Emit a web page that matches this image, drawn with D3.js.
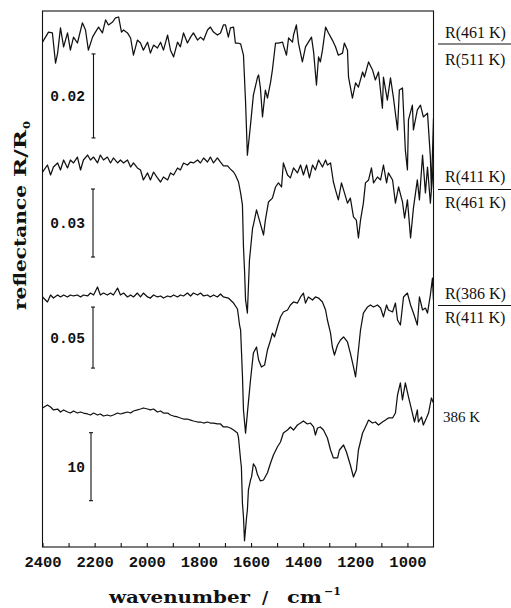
<!DOCTYPE html>
<html>
<head>
<meta charset="utf-8">
<script src="https://cdn.jsdelivr.net/npm/d3@7/dist/d3.min.js"></script>
<style>
  html, body { margin: 0; padding: 0; background: #fff; }
  svg { display: block; }
</style>
</head>
<body>
<svg id="chart" width="511" height="608"></svg>
<script>
// Reflectance spectra of the surface, 2400-900 cm^-1.
// Three difference spectra R(T1)/R(T2) (values in units of 1e-3, i.e. dR/R in per mil)
// and one absolute spectrum at 386 K (values in %). Each entry: [wavenumber, value].

const ratio461over511 = [
  [2400,-2.9],[2377,-0.5],[2362,-0.7],[2350,-7.9],[2342,-5.5],[2331,0.5],[2319,-4.0],[2304,-0.7],
  [2293,-4.8],[2281,-1.7],[2266,-3.1],[2247,1.7],[2235,0.0],[2224,-4.8],[2208,-1.7],[2197,-0.5],
  [2185,0.7],[2170,-0.7],[2158,2.4],[2147,1.2],[2131,1.9],[2120,2.9],[2108,3.1],[2097,-0.5],
  [2089,0.0],[2074,-0.7],[2062,-1.9],[2051,-6.0],[2036,-2.4],[2024,-3.1],[2013,-4.8],[1997,-2.9],
  [1986,-5.5],[1974,-3.6],[1959,-4.3],[1947,-2.9],[1936,-4.8],[1920,-1.2],[1909,-4.8],[1897,-6.4],
  [1882,-2.9],[1871,-4.0],[1859,-0.7],[1844,-3.1],[1832,-1.7],[1821,-0.7],[1805,-2.4],[1794,-1.7],
  [1782,-2.4],[1767,0.0],[1756,0.7],[1744,-0.5],[1729,-1.2],[1717,-0.7],[1706,1.2],[1698,1.2],
  [1687,-1.7],[1679,0.5],[1667,0.7],[1660,-3.1],[1652,-3.1],[1640,-3.3],[1629,-6.0],[1621,-17.1],
  [1614,-29.8],[1602,-22.6],[1591,-15.5],[1575,-11.2],[1571,-10.7],[1564,-13.8],[1556,-20.7],
  [1545,-14.3],[1537,-16.2],[1525,-12.4],[1518,-9.5],[1506,-3.1],[1495,-3.1],[1479,-2.9],
  [1476,-3.6],[1464,-6.0],[1456,-1.9],[1441,-2.9],[1437,-1.2],[1426,1.2],[1418,-3.1],[1403,-7.6],
  [1391,-4.0],[1380,-2.9],[1368,-1.7],[1360,-5.2],[1349,-13.1],[1341,-6.4],[1334,-7.6],[1326,-4.8],
  [1314,0.7],[1303,-0.7],[1288,-2.4],[1276,-4.0],[1265,-6.0],[1249,-5.5],[1242,-3.1],[1230,-4.8],
  [1226,-11.2],[1211,-16.2],[1199,-12.6],[1188,-13.6],[1172,-10.0],[1165,-11.2],[1149,-7.6],
  [1134,-9.5],[1123,-11.9],[1111,-10.0],[1096,-18.6],[1092,-11.2],[1077,-16.7],[1065,-11.4],
  [1054,-16.0],[1038,-23.8],[1031,-14.3],[1019,-13.8],[1008,-28.6],[1000,-33.3],[996,-21.4],
  [981,-17.9],[977,-23.8],[962,-19.0],[950,-17.9],[939,-20.7],[923,-19.8],[912,-30.2],
  [908,-38.1],[900,-21.0]
];

const ratio411over461 = [
  [2400,-3.1],[2381,0.0],[2369,-4.4],[2358,-0.9],[2342,0.9],[2331,-2.2],[2319,2.2],[2304,-1.3],
  [2293,2.2],[2281,0.9],[2266,3.5],[2254,-2.2],[2243,2.2],[2227,4.4],[2216,2.2],[2204,3.5],
  [2189,0.9],[2178,4.4],[2166,2.2],[2151,3.5],[2139,0.9],[2128,3.1],[2112,0.9],[2101,2.2],
  [2089,0.9],[2074,2.2],[2062,-0.9],[2051,0.9],[2036,-1.3],[2024,-2.2],[2013,-6.6],[1997,-3.5],
  [1986,-6.6],[1974,-3.1],[1959,-5.7],[1947,-7.5],[1936,-5.3],[1920,-6.6],[1909,-3.5],[1897,-4.4],
  [1882,-1.3],[1871,-2.2],[1859,0.9],[1844,0.0],[1832,1.3],[1821,0.9],[1805,2.2],[1794,0.9],
  [1782,3.1],[1767,1.3],[1756,3.5],[1744,0.9],[1729,3.1],[1717,1.3],[1706,-0.4],[1690,-0.4],
  [1679,-1.8],[1667,-3.1],[1660,-4.4],[1648,-7.5],[1640,-12.3],[1633,-17.6],[1629,-36.2],
  [1625,-46.3],[1621,-59.5],[1614,-65.3],[1606,-41.9],[1594,-27.8],[1591,-26.5],[1579,-19.8],
  [1568,-24.3],[1552,-30.9],[1545,-24.3],[1533,-16.3],[1518,-14.6],[1506,-9.7],[1495,-7.9],
  [1483,-9.7],[1476,0.9],[1460,-4.4],[1449,-5.7],[1437,-1.3],[1422,-3.5],[1410,0.0],[1399,-4.4],
  [1387,0.0],[1376,-5.7],[1364,0.0],[1353,-2.2],[1341,2.2],[1326,-0.9],[1314,2.2],[1307,0.0],
  [1295,0.9],[1284,-7.5],[1276,-11.0],[1265,-15.4],[1253,-7.9],[1245,-11.0],[1230,-16.8],
  [1219,-14.6],[1207,-22.9],[1196,-24.3],[1188,-32.2],[1180,-24.3],[1169,-16.8],[1161,-7.9],
  [1149,-6.6],[1138,-1.3],[1130,-7.9],[1115,-5.3],[1103,-6.6],[1092,0.0],[1080,-7.9],[1073,-3.5],
  [1057,-6.6],[1046,-16.8],[1034,-9.7],[1019,-16.3],[1011,-23.4],[1000,-15.4],[988,-32.2],
  [977,-19.0],[962,-6.6],[954,-15.4],[942,4.4],[931,-12.3],[923,-0.9],[912,-16.8],[900,0.9]
];

const ratio386over411 = [
  [2400,-1.6],[2381,-5.7],[2369,0.0],[2358,-2.5],[2342,0.0],[2331,-1.6],[2319,0.0],[2304,-1.6],
  [2293,0.0],[2281,-0.8],[2266,0.0],[2254,-1.6],[2243,0.0],[2227,-0.8],[2216,1.6],[2204,0.0],
  [2189,6.6],[2178,0.0],[2166,1.6],[2151,0.0],[2139,1.6],[2128,0.0],[2112,5.7],[2101,0.0],
  [2089,1.6],[2074,-1.6],[2062,0.0],[2051,-1.6],[2036,1.6],[2024,-1.6],[2013,1.6],[1997,-1.6],
  [1986,-2.5],[1974,0.0],[1959,-1.6],[1947,-0.8],[1936,-2.5],[1920,-0.8],[1909,-1.6],[1897,0.0],
  [1882,-1.6],[1871,0.0],[1859,-0.8],[1844,1.6],[1832,-0.8],[1821,1.6],[1805,0.0],[1794,1.6],
  [1782,-0.8],[1767,0.0],[1756,-1.6],[1744,0.0],[1729,-1.6],[1717,0.8],[1706,-1.6],[1687,-2.5],
  [1679,-4.1],[1667,-6.6],[1652,-11.5],[1644,-24.6],[1640,-28.7],[1633,-65.6],[1629,-94.3],
  [1621,-113.2],[1614,-96.8],[1602,-69.7],[1591,-47.6],[1579,-42.6],[1571,-53.3],[1560,-59.0],
  [1548,-57.4],[1537,-45.1],[1525,-36.9],[1518,-31.2],[1510,-34.4],[1499,-26.2],[1487,-18.0],
  [1476,-13.9],[1460,-12.3],[1449,-8.2],[1437,-5.7],[1422,-6.6],[1410,-1.6],[1399,1.6],
  [1391,-6.6],[1380,-1.6],[1364,-4.1],[1353,-1.6],[1341,-2.5],[1326,-5.7],[1314,-12.3],
  [1307,-20.5],[1295,-31.2],[1288,-42.6],[1280,-49.2],[1268,-41.0],[1257,-36.9],[1245,-34.4],
  [1230,-38.5],[1219,-47.6],[1207,-59.0],[1199,-67.2],[1192,-53.3],[1180,-28.7],[1169,-14.8],
  [1153,-9.8],[1142,-8.2],[1130,-9.8],[1115,-8.2],[1103,-10.7],[1092,-18.0],[1080,-8.2],
  [1073,-12.3],[1057,-13.9],[1046,-6.6],[1038,-20.5],[1027,-24.6],[1015,-1.6],[1000,1.6],
  [988,-8.2],[977,-14.8],[962,-24.6],[954,-1.6],[942,-12.3],[931,-10.7],[923,-14.8],[912,0.0],
  [904,13.9],[900,-4.1]
];

const reflect386 = [
  [2400,1.03],[2381,1.47],[2369,1.18],[2358,0.74],[2342,0.88],[2331,0.44],[2319,0.74],[2304,0.44],
  [2293,0.29],[2281,0.59],[2266,0.29],[2254,0.44],[2243,0.29],[2227,0.15],[2216,0.0],[2204,0.29],
  [2189,0.0],[2178,0.15],[2166,-0.15],[2151,0.0],[2139,-0.15],[2128,0.0],[2112,0.29],[2101,0.15],
  [2089,0.29],[2074,0.44],[2062,0.29],[2051,0.59],[2036,0.74],[2024,0.88],[2013,1.03],[1997,0.88],
  [1986,0.74],[1974,0.88],[1959,0.44],[1947,0.59],[1936,0.29],[1920,0.29],[1909,0.0],[1897,-0.15],
  [1882,-0.29],[1871,-0.44],[1859,-0.59],[1844,-0.59],[1832,-0.74],[1821,-0.88],[1805,-1.03],
  [1794,-1.03],[1782,-1.18],[1767,-1.03],[1756,-1.18],[1744,-1.18],[1729,-1.32],[1717,-1.32],
  [1706,-1.76],[1690,-1.76],[1679,-1.91],[1667,-2.21],[1652,-2.65],[1648,-3.38],[1640,-6.62],
  [1637,-7.65],[1633,-12.94],[1629,-15.0],[1625,-18.5],[1617,-15.0],[1614,-13.97],[1610,-11.0],
  [1602,-9.56],[1598,-9.1],[1591,-7.2],[1583,-7.65],[1575,-8.8],[1564,-9.7],[1552,-9.56],
  [1537,-8.5],[1525,-7.06],[1514,-5.88],[1499,-4.71],[1487,-3.97],[1476,-2.65],[1460,-2.21],
  [1449,-1.76],[1437,-2.21],[1422,-1.47],[1410,-1.18],[1399,-0.88],[1384,-1.32],[1372,-1.18],
  [1360,-1.76],[1353,-2.94],[1345,-1.91],[1334,-1.76],[1322,-2.21],[1307,-3.38],[1295,-5.15],
  [1284,-6.32],[1268,-6.32],[1261,-5.15],[1245,-4.41],[1234,-5.44],[1219,-7.35],[1207,-9.12],
  [1196,-8.09],[1188,-5.15],[1172,-2.65],[1161,-1.76],[1149,-0.74],[1134,-1.18],[1123,-1.03],
  [1111,-1.47],[1096,-1.03],[1084,-0.74],[1073,-0.44],[1057,-0.44],[1046,0.29],[1038,2.94],
  [1027,4.71],[1019,2.21],[1008,4.71],[996,2.65],[981,0.29],[973,-1.03],[962,0.74],[958,-1.03],
  [946,-0.29],[939,-1.47],[927,-0.44],[919,0.29],[908,2.5],[900,1.76]
];

// Axis ticks and texts
const xTicksMajor = [2400, 2200, 2000, 1800, 1600, 1400, 1200, 1000];
const xTicksMinor = [2300, 2100, 1900, 1700, 1500, 1300, 1100];
const scaleBarValues = [20, 30, 50, 10];           // in the units of each trace
const scaleBarLabels = ["0.02", "0.03", "0.05", "10"];
const traceLabels = [
  ["R(461 K)", "R(511 K)"],
  ["R(411 K)", "R(461 K)"],
  ["R(386 K)", "R(411 K)"],
  ["386 K"]
];

// ---- layout ----
const plot = { left: 42.5, right: 433.5, top: 11, bottom: 547 };

const svg = d3.select("#chart");

const x = d3.scaleLinear().domain([2400, 900]).range([plot.left, plot.right]);

// Each trace is stacked at its own offset with its own vertical scale;
// the scale bar of a trace spans exactly `scaleBarValues[i]` of that scale.
const panels = [
  { data: ratio461over511, base: 30,  barPx: 84, barLow: -25.7, barX: 93.5, labelY: [38, 65],  fracY: 44 },
  { data: ratio411over461, base: 165, barPx: 68, barLow: -40.6, barX: 93,   labelY: [182, 208], fracY: 189.5 },
  { data: ratio386over411, base: 295, barPx: 61, barLow: -59.9, barX: 93,   labelY: [299, 323], fracY: 305.5 },
  { data: reflect386,      base: 415, barPx: 68, barLow: -12.6, barX: 91,   labelY: [422],      fracY: null }
];
panels.forEach((p, i) => {
  p.y = d3.scaleLinear()
    .domain([0, scaleBarValues[i]])
    .range([p.base, p.base - p.barPx]);
});

const ink = "#111";

svg.append("defs").append("clipPath").attr("id", "plotclip")
  .append("rect")
  .attr("x", plot.left).attr("y", plot.top)
  .attr("width", plot.right - plot.left).attr("height", plot.bottom - plot.top);

// frame
svg.append("rect")
  .attr("x", plot.left).attr("y", plot.top)
  .attr("width", plot.right - plot.left).attr("height", plot.bottom - plot.top)
  .attr("fill", "none").attr("stroke", ink).attr("stroke-width", 1.1);

// bottom axis: inward ticks every 100 cm-1, labels every 200
const xAxis = d3.axisBottom(x)
  .tickValues(xTicksMajor.concat(xTicksMinor))
  .tickSizeInner(-4).tickSizeOuter(0)
  .tickFormat(d => xTicksMajor.includes(d) ? d : "");
const gx = svg.append("g")
  .attr("transform", `translate(0,${plot.bottom})`)
  .call(xAxis);
gx.select(".domain").remove();
gx.selectAll(".tick line").attr("stroke", ink).attr("stroke-width", 1.1);
gx.selectAll(".tick text")
  .attr("y", 20).attr("dy", 0)
  .attr("fill", ink)
  .style("font-family", "'Liberation Mono', 'DejaVu Sans Mono', monospace")
  .style("font-weight", "bold")
  .style("font-size", "15.5px");

// traces
const line = (p) => d3.line()
  .x(d => x(d[0]))
  .y(d => p.y(d[1]))
  .curve(d3.curveLinear);

const traces = svg.append("g").attr("clip-path", "url(#plotclip)");
panels.forEach(p => {
  traces.append("path")
    .datum(p.data)
    .attr("d", line(p))
    .attr("fill", "none")
    .attr("stroke", ink)
    .attr("stroke-width", 1.25)
    .attr("stroke-linejoin", "round");
});

// scale bars
panels.forEach((p, i) => {
  const y1 = p.y(p.barLow), y2 = p.y(p.barLow + scaleBarValues[i]);
  const g = svg.append("g").attr("stroke", ink).attr("stroke-width", 1.1);
  g.append("line").attr("x1", p.barX).attr("x2", p.barX).attr("y1", y1).attr("y2", y2);
  g.append("line").attr("x1", p.barX - 2).attr("x2", p.barX + 2).attr("y1", y1).attr("y2", y1);
  g.append("line").attr("x1", p.barX - 2).attr("x2", p.barX + 2).attr("y1", y2).attr("y2", y2);
  svg.append("text")
    .attr("x", 85).attr("y", (y1 + y2) / 2 + 5)
    .attr("text-anchor", "end")
    .attr("fill", ink)
    .style("font-family", "'Liberation Mono', 'DejaVu Sans Mono', monospace")
    .style("font-weight", "bold")
    .style("font-size", "14.5px")
    .text(scaleBarLabels[i]);
});

// trace labels on the right
panels.forEach((p, i) => {
  traceLabels[i].forEach((t, j) => {
    svg.append("text")
      .attr("x", i === 3 ? 443 : 445).attr("y", p.labelY[j])
      .attr("fill", ink)
      .style("font-family", "'Liberation Serif', 'DejaVu Serif', serif")
      .style("font-size", i === 3 ? "15px" : "16px")
      .text(t);
  });
  if (p.fracY !== null) {
    svg.append("line")
      .attr("x1", 438).attr("x2", 511)
      .attr("y1", p.fracY).attr("y2", p.fracY)
      .attr("stroke", ink).attr("stroke-width", 1);
  }
});

// axis titles: wide bold serif, glyphs stretched to the set length
const titleStyle = sel => sel
  .attr("fill", ink)
  .style("font-family", "'DejaVu Serif', 'Liberation Serif', serif")
  .style("font-weight", "bold")
  .style("font-size", "17px");

const xTitle = svg.append("g");
xTitle.append("text").attr("x", 109).attr("y", 603)
  .attr("textLength", 141).attr("lengthAdjust", "spacingAndGlyphs")
  .call(titleStyle).text("wavenumber");
xTitle.append("text").attr("x", 262).attr("y", 603).call(titleStyle).text("/");
xTitle.append("text").attr("x", 287).attr("y", 603)
  .attr("textLength", 35).attr("lengthAdjust", "spacingAndGlyphs")
  .call(titleStyle).text("cm");
xTitle.append("text").attr("x", 324).attr("y", 595)
  .call(titleStyle).style("font-size", "11px").text("\u22121");

const yTitle = svg.append("g").attr("transform", "translate(26,310) rotate(-90)");
yTitle.append("text").attr("x", 0).attr("y", 0)
  .attr("textLength", 125).attr("lengthAdjust", "spacingAndGlyphs")
  .call(titleStyle).text("reflectance");
yTitle.append("text").attr("x", 133).attr("y", 0)
  .attr("textLength", 47).attr("lengthAdjust", "spacingAndGlyphs")
  .call(titleStyle).text("R/R");
yTitle.append("text").attr("x", 181).attr("y", 4)
  .call(titleStyle).style("font-size", "12px").text("o");
</script>
</body>
</html>
